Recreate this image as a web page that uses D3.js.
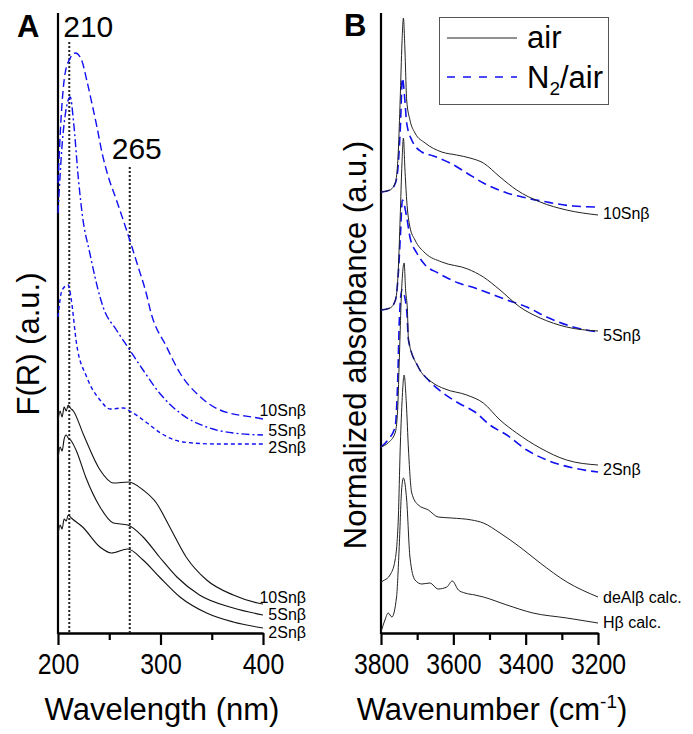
<!DOCTYPE html>
<html>
<head>
<meta charset="utf-8">
<script src="https://cdn.jsdelivr.net/npm/d3@7"></script>
<style>
  body { margin: 0; background: #fff; }
  svg { display: block; font-family: Arial, "Liberation Sans", sans-serif; }
</style>
</head>
<body>
<div id="chart"></div>
<script>
// ---- Panel A : UV-vis, F(R) vs wavelength (nm) ----
const aLabels = ['10Snβ', '5Snβ', '2Snβ'];
const aAirNm    = [200, 202, 204, 206, 208, 210, 212, 215, 225, 241, 254, 269, 283, 296, 309, 325, 345, 371, 395, 400];
const aAir10    = [2.12, 2.22, 2.16, 2.26, 2.22, 2.28, 2.25, 2.22, 1.98, 1.63, 1.50, 1.51, 1.43, 1.30, 1.06, 0.76, 0.53, 0.38, 0.30, 0.29];
const aAir5Nm   = [200, 202, 204, 206, 208, 210, 213, 218, 227, 241, 254, 268, 283, 299, 316, 338, 371, 400];
const aAir5     = [1.74, 1.86, 1.82, 1.94, 1.98, 1.95, 1.92, 1.82, 1.56, 1.26, 1.10, 1.08, 0.96, 0.76, 0.56, 0.38, 0.25, 0.18];
const aAir2Nm   = [200, 202, 204, 206, 208, 210, 213, 224, 241, 252, 268, 283, 299, 319, 345, 371, 400];
const aAir2     = [0.98, 1.08, 1.04, 1.14, 1.12, 1.18, 1.15, 1.06, 0.86, 0.80, 0.84, 0.73, 0.56, 0.36, 0.20, 0.11, 0.05];
const aN2Nm10   = [200, 203, 207, 212, 217, 223, 228, 233, 238, 243, 248, 257, 270, 277, 287, 290, 306, 319, 339, 358, 395, 400];
const aN2_10    = [4.50, 5.15, 5.60, 5.75, 5.80, 5.73, 5.53, 5.30, 5.06, 4.80, 4.60, 4.33, 3.93, 3.70, 3.36, 3.23, 2.86, 2.60, 2.36, 2.23, 2.15, 2.14];
const aN2Nm5    = [200, 205, 212, 215, 220, 224, 231, 241, 244, 257, 270, 283, 299, 319, 345, 371, 400];
const aN2_5     = [4.20, 5.00, 5.36, 5.13, 4.53, 4.16, 3.80, 3.36, 3.26, 3.03, 2.83, 2.63, 2.40, 2.20, 2.06, 2.00, 1.98];
const aN2Nm2    = [200, 204, 210, 213, 218, 228, 241, 251, 264, 270, 287, 300, 322, 355, 400];
const aN2_2     = [3.16, 3.43, 3.48, 3.33, 2.90, 2.56, 2.33, 2.24, 2.25, 2.22, 2.10, 2.00, 1.91, 1.89, 1.89];
const aMarkPos   = [211, 270];
const aMarkTop   = [5.91, 4.66];
const aMarkText  = ['210', '265'];
const aTicks = [200, 300, 400];
const aMinor = [250, 350];

// ---- Panel B : IR, normalized absorbance vs wavenumber (cm-1) ----
const bLabels = ['10Snβ', '5Snβ', '2Snβ', 'deAlβ calc.', 'Hβ calc.'];
const bAir10Wn = [3800, 3775, 3760, 3752, 3747, 3742, 3738, 3734, 3729, 3720, 3706, 3678, 3632, 3591, 3554, 3517, 3471, 3425, 3360, 3287, 3200];
const bAir10   = [4.41, 4.43, 4.51, 4.83, 5.33, 5.90, 6.15, 5.85, 5.33, 5.13, 5.00, 4.90, 4.81, 4.78, 4.75, 4.70, 4.56, 4.43, 4.31, 4.23, 4.18];
const bN2_10Wn = [3800, 3775, 3760, 3752, 3746, 3741, 3734, 3729, 3715, 3687, 3655, 3609, 3563, 3517, 3452, 3397, 3342, 3268, 3200];
const bN2_10   = [4.41, 4.43, 4.50, 4.70, 5.10, 5.55, 5.33, 5.10, 4.93, 4.81, 4.77, 4.70, 4.60, 4.50, 4.40, 4.35, 4.31, 4.27, 4.26];
const bAir5Wn  = [3800, 3775, 3760, 3752, 3747, 3742, 3738, 3734, 3729, 3720, 3706, 3678, 3632, 3560, 3517, 3471, 3416, 3360, 3287, 3200];
const bAir5    = [3.23, 3.25, 3.33, 3.65, 4.15, 4.70, 4.95, 4.65, 4.33, 4.06, 3.93, 3.80, 3.71, 3.64, 3.56, 3.43, 3.26, 3.15, 3.06, 3.02];
const bN2_5Wn  = [3800, 3775, 3760, 3752, 3746, 3741, 3729, 3720, 3701, 3678, 3642, 3586, 3540, 3517, 3452, 3397, 3342, 3269, 3200];
const bN2_5    = [3.23, 3.25, 3.33, 3.60, 4.00, 4.33, 4.16, 3.96, 3.80, 3.68, 3.60, 3.50, 3.45, 3.42, 3.33, 3.26, 3.16, 3.06, 3.01];
const bAir2Wn  = [3800, 3781, 3761, 3754, 3750, 3743, 3736, 3732, 3727, 3724, 3697, 3660, 3623, 3563, 3517, 3471, 3425, 3360, 3287, 3200];
const bAir2    = [1.86, 1.90, 2.00, 2.23, 2.66, 3.43, 3.70, 3.43, 3.23, 2.93, 2.66, 2.51, 2.44, 2.38, 2.30, 2.13, 2.00, 1.85, 1.73, 1.68];
const bN2_2Wn  = [3800, 3781, 3761, 3754, 3749, 3742, 3729, 3724, 3697, 3669, 3632, 3586, 3540, 3499, 3452, 3397, 3342, 3268, 3200];
const bN2_2    = [1.86, 1.93, 2.06, 2.50, 3.16, 3.43, 3.23, 2.93, 2.66, 2.53, 2.41, 2.30, 2.21, 2.08, 1.98, 1.83, 1.73, 1.65, 1.61];
const bDeAlWn  = [3800, 3790, 3775, 3761, 3752, 3747, 3742, 3736, 3730, 3724, 3715, 3697, 3669, 3642, 3605, 3549, 3517, 3471, 3416, 3360, 3286, 3200];
const bDeAl    = [0.51, 0.53, 0.58, 0.73, 1.16, 1.83, 2.30, 2.58, 2.30, 1.83, 1.40, 1.28, 1.23, 1.16, 1.15, 1.13, 1.10, 1.00, 0.86, 0.70, 0.51, 0.36];
const bHWn     = [3800, 3789, 3780, 3770, 3757, 3750, 3743, 3738, 3729, 3720, 3706, 3687, 3665, 3642, 3618, 3603, 3586, 3568, 3540, 3517, 3452, 3380, 3286, 3200];
const bH       = [0.01, 0.13, 0.20, 0.16, 0.36, 0.83, 1.43, 1.55, 1.33, 0.76, 0.53, 0.49, 0.50, 0.44, 0.46, 0.52, 0.43, 0.40, 0.38, 0.36, 0.28, 0.20, 0.15, 0.10];
const bTicks = [3800, 3600, 3400, 3200];
const bMinor = [3700, 3500, 3300];
const legendText = ['air', 'N2/air'];

const W = 693, H = 734;
const blue = '#1010f0';

const svg = d3.select('#chart').append('svg')
  .attr('width', W).attr('height', H);
svg.append('rect').attr('width', W).attr('height', H).attr('fill', '#fff');

const zip = (xs, ys) => xs.map((x, i) => [x, ys[i]]);

// scales
const xA = d3.scaleLinear().domain([200, 400]).range([58, 263]);
const xB = d3.scaleLinear().domain([3800, 3200]).range([381, 598]);
const y = d3.scaleLinear().domain([0, 6.2]).range([633, 13]);

const lineA = d3.line().x(d => xA(d[0])).y(d => y(d[1])).curve(d3.curveMonotoneX);
const lineB = d3.line().x(d => xB(d[0])).y(d => y(d[1])).curve(d3.curveMonotoneX);

function drawAxes(x, ticks, minor, x0, fmt) {
  const g = svg.append('g').attr('transform', 'translate(0,633)');
  g.call(d3.axisBottom(x).tickValues(minor).tickSize(7).tickSizeOuter(0).tickFormat(''));
  const gm = svg.append('g').attr('transform', 'translate(0,633)')
    .call(d3.axisBottom(x).tickValues(ticks).tickSize(12).tickSizeOuter(0).tickPadding(8).tickFormat(fmt));
  svg.selectAll('.domain').attr('stroke', '#000').attr('stroke-width', 2.2);
  svg.selectAll('.tick line').attr('stroke', '#000').attr('stroke-width', 2.2);
  // narrow digits like the original figure
  gm.selectAll('text')
    .attr('font-family', 'Arial, "Liberation Sans", sans-serif')
    .attr('font-size', 30).attr('fill', '#000')
    .attr('textLength', d => String(d).length * 13.8)
    .attr('lengthAdjust', 'spacingAndGlyphs');
  // left spine
  svg.append('line').attr('x1', x0).attr('x2', x0).attr('y1', 13).attr('y2', 634)
    .attr('stroke', '#000').attr('stroke-width', 2.2);
}

drawAxes(xA, aTicks, aMinor, xA(200), d3.format('d'));
drawAxes(xB, bTicks, bMinor, xB(3800), d3.format('d'));

// ---- Panel A marks ----
const gA = svg.append('g');
aMarkPos.forEach((p, i) => {
  gA.append('line')
    .attr('x1', xA(p)).attr('x2', xA(p))
    .attr('y1', y(aMarkTop[i])).attr('y2', y(0))
    .attr('stroke', '#222').attr('stroke-width', 2).attr('stroke-dasharray', '2,2');
});
gA.append('text').attr('x', xA(aMarkPos[0]) + 19).attr('y', 37)
  .attr('text-anchor', 'middle').attr('font-size', 30).text(aMarkText[0]);
gA.append('text').attr('x', xA(aMarkPos[1]) + 7).attr('y', 159)
  .attr('text-anchor', 'middle').attr('font-size', 30).text(aMarkText[1]);

const aBlue = [
  { d: zip(aN2Nm10, aN2_10), dash: '8,4' },
  { d: zip(aN2Nm5, aN2_5), dash: '8,3,2,3' },
  { d: zip(aN2Nm2, aN2_2), dash: '4,3' }
];
const aBlack = [zip(aAirNm, aAir10), zip(aAir5Nm, aAir5), zip(aAir2Nm, aAir2)];

aBlue.forEach(s => {
  gA.append('path').datum(s.d).attr('d', lineA)
    .attr('fill', 'none').attr('stroke', blue).attr('stroke-width', 1.4)
    .attr('stroke-dasharray', s.dash);
});
aBlack.forEach(s => {
  gA.append('path').datum(s).attr('d', lineA)
    .attr('fill', 'none').attr('stroke', '#111').attr('stroke-width', 1.1);
});

const blueLabelY = [410, 430, 447];
const blackLabelY = [597, 614, 632];
aLabels.forEach((t, i) => {
  gA.append('text').attr('x', 306).attr('y', blueLabelY[i]).attr('dy', '0.35em')
    .attr('text-anchor', 'end').attr('font-size', 16).text(t);
  gA.append('text').attr('x', 306).attr('y', blackLabelY[i]).attr('dy', '0.35em')
    .attr('text-anchor', 'end').attr('font-size', 16).text(t);
});

// ---- Panel B marks ----
const gB = svg.append('g');
const bN2 = [zip(bN2_10Wn, bN2_10), zip(bN2_5Wn, bN2_5), zip(bN2_2Wn, bN2_2)];
const bAir = [zip(bAir10Wn, bAir10), zip(bAir5Wn, bAir5), zip(bAir2Wn, bAir2), zip(bDeAlWn, bDeAl), zip(bHWn, bH)];
bN2.forEach(s => {
  gB.append('path').datum(s).attr('d', lineB)
    .attr('fill', 'none').attr('stroke', blue).attr('stroke-width', 1.6)
    .attr('stroke-dasharray', '9,5');
});
bAir.forEach(s => {
  gB.append('path').datum(s).attr('d', lineB)
    .attr('fill', 'none').attr('stroke', '#222').attr('stroke-width', 1);
});
const bLabelY = [213, 335, 469, 597, 622];
bLabels.forEach((t, i) => {
  gB.append('text').attr('x', 603).attr('y', bLabelY[i]).attr('dy', '0.35em')
    .attr('font-size', 16).text(t);
});

// legend
const lg = svg.append('g');
lg.append('rect').attr('x', 439.5).attr('y', 17.5).attr('width', 169).attr('height', 87)
  .attr('fill', '#fff').attr('stroke', '#555').attr('stroke-width', 1);
lg.append('line').attr('x1', 447).attr('x2', 517).attr('y1', 38).attr('y2', 38)
  .attr('stroke', '#222').attr('stroke-width', 1);
lg.append('line').attr('x1', 447).attr('x2', 517).attr('y1', 77).attr('y2', 77)
  .attr('stroke', blue).attr('stroke-width', 1.6).attr('stroke-dasharray', '8,8');
lg.append('text').attr('x', 527).attr('y', 48).attr('font-size', 31).text(legendText[0]);
const n2 = lg.append('text').attr('x', 527).attr('y', 88).attr('font-size', 31);
n2.append('tspan').text('N');
n2.append('tspan').attr('font-size', 19).attr('dy', 7).text('2');
n2.append('tspan').attr('dy', -7).text('/air');

// panel letters and titles
svg.append('text').attr('x', 17).attr('y', 37).attr('font-size', 31).attr('font-weight', 'bold').text('A');
svg.append('text').attr('x', 344).attr('y', 36).attr('font-size', 31).attr('font-weight', 'bold').text('B');

svg.append('text').attr('x', 162).attr('y', 720).attr('text-anchor', 'middle')
  .attr('font-size', 31).text('Wavelength (nm)');
const xt = svg.append('text').attr('x', 492).attr('y', 720).attr('text-anchor', 'middle')
  .attr('font-size', 31);
xt.append('tspan').text('Wavenumber (cm');
xt.append('tspan').attr('font-size', 19).attr('dy', -12).text('-1');
xt.append('tspan').attr('dy', 12).text(')');

svg.append('text').attr('transform', 'translate(39,344) rotate(-90)')
  .attr('text-anchor', 'middle').attr('font-size', 31).text('F(R) (a.u.)');
svg.append('text').attr('transform', 'translate(366,345) rotate(-90)')
  .attr('text-anchor', 'middle').attr('font-size', 31).text('Normalized absorbance (a.u.)');
</script>
</body>
</html>
